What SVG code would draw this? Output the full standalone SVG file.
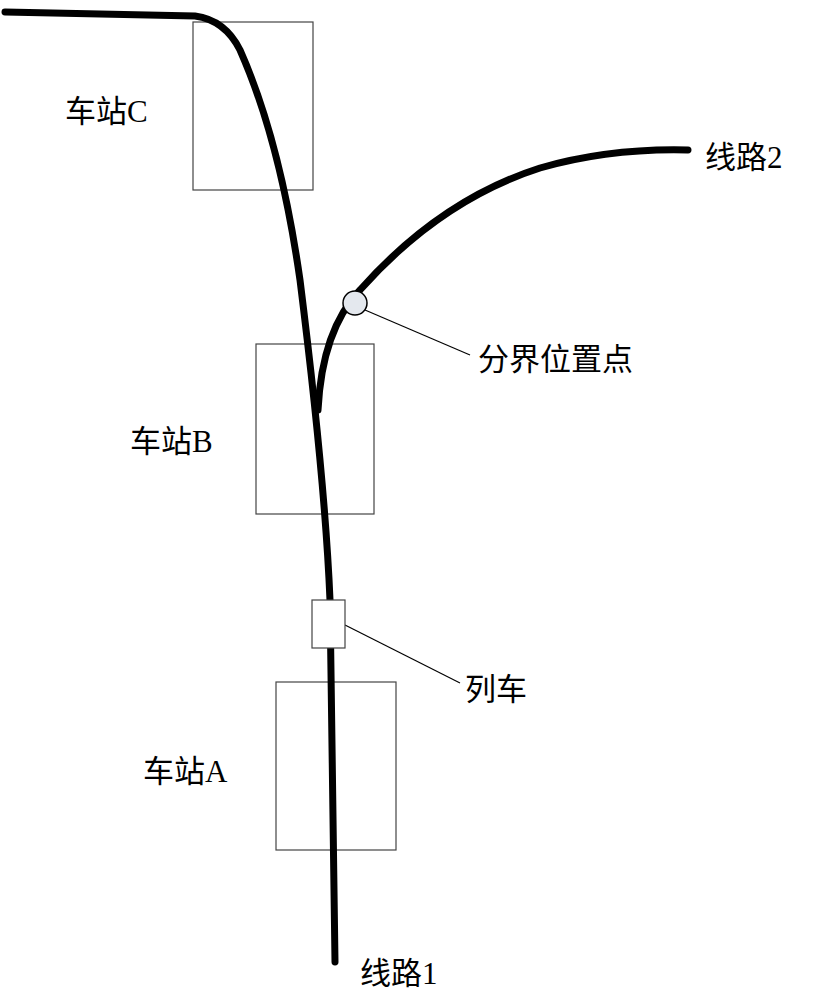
<svg xmlns="http://www.w3.org/2000/svg" width="820" height="1000" viewBox="0 0 820 1000">
<style>
.box{fill:none;stroke:#444;stroke-width:1.2}
.track{fill:none;stroke:#000;stroke-width:7;stroke-linecap:round}
.lead{stroke:#000;stroke-width:1.2}
text{font-family:"Liberation Serif","Noto Sans CJK SC",serif;font-size:31px;fill:#000}
</style>
<rect width="820" height="1000" fill="#fff"/>
<g id="stationC"><rect class="box" x="193" y="22" width="120" height="168"/><text x="65" y="122">车站C</text></g>
<g id="stationB"><rect class="box" x="256" y="344" width="118" height="170"/><text x="130" y="452">车站B</text></g>
<g id="stationA"><rect class="box" x="276" y="682" width="120" height="168"/><text x="143" y="782">车站A</text></g>
<g id="connectors">
<path class="track" d="M5,12 L195,16 Q225,20 240,50 Q280,140 300,280 Q325,480 330,600 L335,962"/>
<path class="track" d="M318,410 Q322,330 360,290 Q440,200 540,168 Q610,148 688,150"/>
<line class="lead" x1="365" y1="310" x2="470" y2="355"/>
<line class="lead" x1="345" y1="625" x2="460" y2="683"/>
</g>
<g id="train"><rect x="312" y="600" width="33" height="48" fill="#fff" stroke="#444" stroke-width="1.2"/></g>
<g id="boundary"><circle cx="355" cy="303" r="12" fill="#e4e8ee" stroke="#000" stroke-width="1.5"/><text x="478" y="370" font-size="28">分界位置点</text></g>
<g id="trainLabel"><text x="465" y="700">列车</text></g>
<g id="line2"><text x="705" y="168">线路2</text></g>
<g id="line1"><text x="360" y="984">线路1</text></g>
</svg>
